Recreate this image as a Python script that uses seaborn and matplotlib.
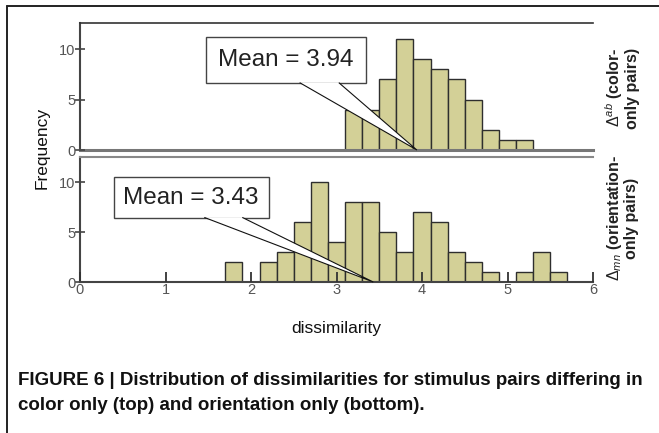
import matplotlib
matplotlib.use("Agg")
import matplotlib.pyplot as plt
from matplotlib.lines import Line2D
from matplotlib.patches import Polygon
import numpy as np
import pandas as pd
import seaborn as sns

# Histogram bin edges (width 0.2) and counts per bin
color_edges = [3.1, 3.3, 3.5, 3.7, 3.9, 4.1, 4.3, 4.5, 4.7, 4.9, 5.1, 5.3]
color_counts = [4, 4, 7, 11, 9, 8, 7, 5, 2, 1, 1]
color_mean = 3.94

orient_edges = [1.7, 1.9, 2.1, 2.3, 2.5, 2.7, 2.9, 3.1, 3.3, 3.5, 3.7, 3.9,
                4.1, 4.3, 4.5, 4.7, 4.9, 5.1, 5.3, 5.5, 5.7]
orient_counts = [2, 0, 2, 3, 6, 10, 4, 8, 8, 5, 3, 7, 6, 3, 2, 1, 0, 1, 3, 1]
orient_mean = 3.43

x_ticks = [0, 1, 2, 3, 4, 5, 6]
y_ticks = [0, 5, 10]

sns.set_style("white")
plt.rcParams["font.family"] = ["Liberation Sans", "DejaVu Sans"]
plt.rcParams["mathtext.fontset"] = "custom"
plt.rcParams["mathtext.rm"] = "Liberation Sans"
plt.rcParams["mathtext.it"] = "Liberation Sans:italic"
plt.rcParams["mathtext.bf"] = "Liberation Sans:bold"

W, H = 659, 433
fig = plt.figure(figsize=(W / 100, H / 100), dpi=100)


def px_axes(left, top, right, bottom):
    return fig.add_axes([left / W, 1 - bottom / H, (right - left) / W, (bottom - top) / H])


ax_top = px_axes(80, 23, 593, 150)
ax_bot = px_axes(80, 157, 593, 282)

bar_face = "#D3D097"
bar_edge = "#2e2e2e"
tick_gray = "#555555"


def draw_hist(ax, edges, counts, ylim_top):
    e = np.asarray(edges, dtype=float)
    df = pd.DataFrame({"dissimilarity": (e[:-1] + e[1:]) / 2,
                       "count": np.asarray(counts, dtype=float)})
    sns.histplot(data=df, x="dissimilarity", weights="count", bins=list(edges), ax=ax,
                 color=bar_face, edgecolor=bar_edge, linewidth=1.0, alpha=1.0)
    ax.set_xlim(0, 6)
    ax.set_ylim(0, ylim_top)
    ax.set_xlabel("")
    ax.set_ylabel("")
    ax.set_axisbelow(False)
    ax.set_yticks(y_ticks)
    ax.tick_params(axis="y", direction="inout", length=7, width=1.2,
                   color="#444444", labelcolor=tick_gray, labelsize=10.5, pad=0, left=True)
    ax.spines["right"].set_visible(False)
    ax.spines["left"].set_color("#444444")
    ax.spines["left"].set_linewidth(1.5)


draw_hist(ax_top, color_edges, color_counts, 12.6)
draw_hist(ax_bot, orient_edges, orient_counts, 12.5)

# top panel: no x axis labels, grey baseline
ax_top.tick_params(axis="x", bottom=False, labelbottom=False)
ax_top.spines["top"].set_color("#333333")
ax_top.spines["top"].set_linewidth(1.2)
ax_top.spines["bottom"].set_color("#777777")
ax_top.spines["bottom"].set_linewidth(2.2)

# bottom panel: x ticks pointing inward, drawn over the bars
ax_bot.set_xticks(x_ticks)
ax_bot.tick_params(axis="x", direction="in", length=7, width=1.3, color="#333333",
                   labelcolor=tick_gray, labelsize=10.5, pad=1, bottom=True)
ax_bot.spines["top"].set_color("#888888")
ax_bot.spines["top"].set_linewidth(1.5)
ax_bot.spines["bottom"].set_color("#444444")
ax_bot.spines["bottom"].set_linewidth(1.5)


# "Mean = ..." boxes; the pointer is attached afterwards
def mean_box(ax, mean, text_xy, pad):
    return ax.text(text_xy[0], text_xy[1], f"Mean = {mean:.2f}", ha="center", va="center",
                   fontsize=17.5, color="#222222", zorder=6,
                   bbox=dict(boxstyle=f"square,pad={pad}", fc="white", ec="#444444", lw=1.0))


box_top = mean_box(ax_top, color_mean, (2.41, 8.9), 0.5)
box_bot = mean_box(ax_bot, orient_mean, (1.30, 8.45), 0.4)

fig.canvas.draw()


def pointer(ax, box, mean):
    # white wedge from the bottom edge of the box down to the mean on the x axis
    ext = box.get_bbox_patch().get_window_extent()
    y_base = ext.y0 + 0.8
    left = (ext.x0 + 0.585 * ext.width, y_base)
    right = (ext.x0 + 0.83 * ext.width, y_base)
    tip = ax.transData.transform((mean, 0))
    to_fig = fig.transFigure.inverted()
    pts = to_fig.transform(np.array([left, tip, right]))
    fig.add_artist(Polygon(pts, closed=False, transform=fig.transFigure,
                           fc="white", ec="#111111", lw=0.8, zorder=8))


pointer(ax_top, box_top, color_mean)
pointer(ax_bot, box_bot, orient_mean)

# axis titles
fig.text(42 / W, 1 - 148 / H, "Frequency", rotation=90, ha="center", va="center",
         fontsize=12.5, color="#111111")
fig.text(336 / W, 1 - 329 / H, "dissimilarity", ha="center", va="center",
         fontsize=12.5, color="#111111")

# panel labels on the right
fig.text(622 / W, 1 - 88 / H, "$\\mathrm{\\Delta}^{ab}$ (color-\nonly pairs)", rotation=90,
         ha="center", va="center", multialignment="right", fontsize=11.5,
         fontweight="bold", color="#222222", linespacing=1.0)
fig.text(622 / W, 1 - 218 / H, "$\\mathrm{\\Delta}_{mn}$ (orientation-\nonly pairs)", rotation=90,
         ha="center", va="center", multialignment="center", fontsize=11.5,
         fontweight="bold", color="#222222", linespacing=1.0)

# frame lines along the top and left of the figure
fig.add_artist(Line2D([7 / W, 1.0], [1 - 6 / H, 1 - 6 / H], transform=fig.transFigure,
                      color="#222222", lw=1.4))
fig.add_artist(Line2D([7 / W, 7 / W], [1 - 6 / H, 0.0], transform=fig.transFigure,
                      color="#222222", lw=1.4))

# caption
fig.text(18 / W, 1 - 393 / H,
         "FIGURE 6 | Distribution of dissimilarities for stimulus pairs differing in\n"
         "color only (top) and orientation only (bottom).",
         ha="left", va="center", fontsize=13.5, fontweight="bold", color="#111111",
         linespacing=1.55)

fig.savefig("out.png", dpi=100)
